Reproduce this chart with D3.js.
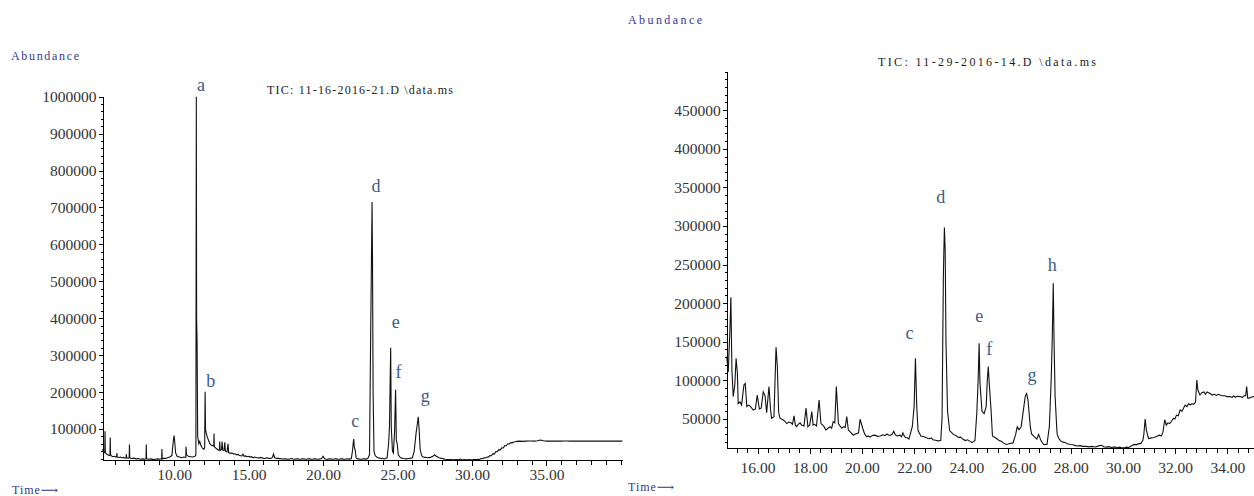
<!DOCTYPE html>
<html>
<head>
<meta charset="utf-8">
<script src="https://cdn.jsdelivr.net/npm/d3@7/dist/d3.min.js"></script>
<style>
  html, body { margin: 0; padding: 0; background: #fff; }
  svg { display: block; }
  .tick text { font-family: "Liberation Serif", "Times New Roman", serif; font-size: 15.5px; fill: #333; }
  .axis path, .axis line { stroke: #000; stroke-width: 1; shape-rendering: crispEdges; }
  .trace { fill: none; stroke: #111; stroke-width: 1.1; stroke-linejoin: miter; }
  .peak { font-family: "Liberation Serif", "Times New Roman", serif; font-size: 18px; fill: #3d5a88; }
  .axlab { font-family: "Liberation Serif", "DejaVu Serif", serif; font-size: 12px; fill: #36368f; }
  .title { font-family: "Liberation Serif", serif; font-size: 12px; fill: #222; }
</style>
</head>
<body>
<svg id="chart" width="1254" height="496"></svg>
<script>
// ---- Run 1: 11-16-2016-21.D  ([retention time (min), abundance]) ----
const leftTrace = [
  [5.19,45000],[5.25,40000],[5.30,36000],[5.34,38000],[5.36,94000],[5.38,36000],[5.45,33000],[5.55,30000],
  [5.65,28000],[5.69,29000],[5.71,77000],[5.73,30000],[5.80,27000],[5.90,25000],[6.00,26000],[6.10,24000],
  [6.14,25000],[6.16,35000],[6.18,24000],[6.30,23000],[6.40,24000],[6.50,22000],[6.60,23000],[6.70,21000],
  [6.77,22000],[6.79,32000],[6.82,22000],[6.90,21000],[6.98,22000],[7.00,58000],[7.02,22000],[7.15,20000],
  [7.30,21000],[7.45,19000],[7.60,20000],[7.75,18000],[7.90,19000],[8.05,18000],[8.11,19000],[8.13,58000],
  [8.15,19000],[8.30,18000],[8.45,19000],[8.60,17000],[8.75,18000],[8.90,19000],[9.05,18000],[9.16,19000],
  [9.18,46000],[9.20,19000],[9.35,21000],[9.45,20000],[9.55,22000],[9.70,24000],[9.85,28000],[9.95,70000],
  [10.00,82000],[10.05,60000],[10.10,35000],[10.20,26000],[10.35,24000],[10.50,22000],[10.65,24000],[10.78,23000],
  [10.80,52000],[10.83,30000],[10.95,26000],[11.10,25000],[11.25,24000],[11.40,26000],[11.46,30000],[11.49,1000000],
  [11.51,400000],[11.54,340000],[11.58,80000],[11.66,60000],[11.72,66000],[11.80,55000],[11.90,48000],[12.00,45000],
  [12.05,50000],[12.08,201000],[12.11,97000],[12.20,82000],[12.30,70000],[12.40,60000],[12.50,56000],[12.66,54000],
  [12.68,88000],[12.70,52000],[12.80,48000],[12.90,45000],[13.00,42000],[13.04,43000],[13.06,66000],[13.09,42000],
  [13.18,44000],[13.22,66000],[13.26,43000],[13.35,42000],[13.40,64000],[13.44,40000],[13.55,38000],[13.62,60000],
  [13.66,36000],[13.80,34000],[13.90,35000],[14.00,32000],[14.10,33000],[14.20,30000],[14.30,31000],[14.40,28000],
  [14.55,27000],[14.62,32000],[14.70,26000],[14.80,27000],[14.90,25000],[15.00,26000],[15.10,24000],[15.20,25000],
  [15.30,22000],[15.40,24000],[15.50,23000],[15.60,22000],[15.70,21000],[15.80,23000],[15.90,22000],[16.00,20500],
  [16.10,20000],[16.20,22000],[16.30,21000],[16.40,20000],[16.50,20000],[16.60,23000],[16.67,32000],[16.75,22000],
  [16.90,20000],[17.00,21000],[17.10,19000],[17.20,20000],[17.30,18000],[17.40,19500],[17.50,19000],[17.60,18000],
  [17.70,18000],[17.80,19500],[17.90,20000],[18.00,18500],[18.10,18000],[18.20,19500],[18.30,19000],[18.40,18000],
  [18.50,18000],[18.60,19500],[18.70,19000],[18.80,18000],[18.90,18000],[19.00,19500],[19.10,19000],[19.20,18000],
  [19.30,18000],[19.40,19500],[19.50,19000],[19.60,18000],[19.70,18000],[19.80,19000],[19.90,20000],[20.00,26000],
  [20.10,19000],[20.20,18000],[20.30,18000],[20.40,19500],[20.50,19000],[20.60,18000],[20.70,18000],[20.80,19500],
  [20.90,19000],[21.00,18000],[21.10,18000],[21.20,19500],[21.30,19000],[21.40,18000],[21.50,18000],[21.60,19500],
  [21.70,19000],[21.80,18500],[21.90,20000],[21.98,42000],[22.02,60000],[22.06,73000],[22.10,50000],[22.16,43000],
  [22.22,22000],[22.30,19000],[22.40,19000],[22.50,18000],[22.60,18000],[22.70,19500],[22.80,19000],[22.90,18500],
  [23.00,20000],[23.12,30000],[23.20,368000],[23.25,557000],[23.29,715000],[23.32,557000],[23.36,200000],[23.42,40000],
  [23.50,28000],[23.60,24000],[23.70,22000],[23.80,21000],[23.90,20000],[24.00,20500],[24.10,19000],[24.20,20000],
  [24.30,22000],[24.40,60000],[24.46,106000],[24.54,320000],[24.58,106000],[24.66,40000],[24.72,35000],[24.80,90000],
  [24.87,206000],[24.92,70000],[24.98,60000],[25.05,30000],[25.20,22000],[25.30,21000],[25.40,20000],[25.50,19500],
  [25.60,19000],[25.70,20000],[25.80,20000],[25.90,21000],[26.00,22000],[26.12,40000],[26.25,90000],[26.32,110000],
  [26.39,133000],[26.45,100000],[26.52,45000],[26.62,28000],[26.70,25000],[26.80,23000],[26.90,23500],[27.00,22000],
  [27.10,22500],[27.20,23000],[27.30,25000],[27.40,27000],[27.50,30000],[27.60,26000],[27.70,24000],[27.80,22000],
  [27.90,21000],[28.00,20000],[28.10,19000],[28.20,18000],[28.30,17500],[28.40,17000],[28.50,17500],[28.60,17000],
  [28.70,16500],[28.80,16500],[28.90,17500],[29.00,17000],[29.10,16500],[29.20,18500],[29.30,17000],[29.40,16500],
  [29.50,17000],[29.60,16500],[29.70,16500],[29.80,17000],[29.90,16500],[30.00,16500],[30.10,17500],[30.20,17000],
  [30.30,17500],[30.40,18000],[30.50,17500],[30.60,20000],[30.70,19500],[30.80,22000],[30.90,21500],[31.00,24000],
  [31.10,23500],[31.20,28000],[31.30,27500],[31.40,33000],[31.50,32000],[31.60,39000],[31.70,38500],[31.80,44000],
  [31.90,43500],[32.00,49000],[32.10,48500],[32.20,55000],[32.30,54500],[32.40,60000],[32.50,59500],[32.60,63000],
  [32.70,62500],[32.80,65000],[32.90,65500],[33.00,66500],[33.20,67000],[33.40,66500],[33.60,67000],[33.80,67500],
  [34.00,67500],[34.20,67000],[34.40,68000],[34.60,70000],[34.80,68000],[35.00,67000],[35.20,67500],[35.40,67000],
  [35.60,67500],[35.80,67000],[36.00,67000],[36.20,67500],[36.40,67500],[36.60,67000],[36.80,67000],[37.00,67500],
  [37.20,67000],[37.40,67000],[37.60,67500],[37.80,67000],[38.00,67000],[38.20,67500],[38.40,67000],[38.60,67000],
  [38.80,67000],[39.00,67500],[39.20,67000],[39.40,67000],[39.60,67000],[39.80,67000],[40.10,67000]
];
const leftPeakLetters = ["a","b","c","d","e","f","g"];
const leftPeakTimes = [11.49,12.08,22.06,23.29,24.54,24.87,26.39];
const leftYTicks = [100000,200000,300000,400000,500000,600000,700000,800000,900000,1000000];
const leftXTicks = [10,15,20,25,30,35];
const leftTitle = "TIC: 11-16-2016-21.D \\data.ms";

// ---- Run 2: 11-29-2016-14.D ----
const rightTrace = [
  [14.82,130700],[14.88,111000],[14.95,172000],[14.98,207600],[15.02,113000],[15.07,79000],[15.13,94000],[15.18,128600],
  [15.23,109000],[15.26,70000],[15.33,72000],[15.39,68000],[15.48,94000],[15.53,96000],[15.59,66000],[15.65,68000],
  [15.71,67000],[15.78,64000],[15.84,61600],[15.92,63000],[15.99,81000],[16.07,63000],[16.14,64000],[16.22,85000],
  [16.29,80000],[16.35,58000],[16.44,92000],[16.50,62000],[16.54,51000],[16.63,53000],[16.71,143000],[16.76,118000],
  [16.81,59000],[16.86,51000],[16.92,50000],[16.99,48700],[17.05,47000],[17.12,44000],[17.20,46000],[17.28,45000],
  [17.34,43000],[17.40,54000],[17.45,42000],[17.50,40000],[17.56,43000],[17.63,45000],[17.69,42000],[17.78,41000],
  [17.86,64000],[17.93,40000],[18.00,42000],[18.08,59500],[18.13,42000],[18.18,43000],[18.26,41000],[18.36,74600],
  [18.43,44000],[18.50,42000],[18.55,40000],[18.62,35700],[18.70,38000],[18.78,40000],[18.84,38000],[18.90,46500],
  [18.96,45000],[19.02,92000],[19.10,44000],[19.16,41000],[19.23,38000],[19.30,40000],[19.36,39000],[19.42,53000],
  [19.48,35700],[19.56,33000],[19.67,29000],[19.74,30500],[19.80,31000],[19.87,32000],[19.93,49600],[20.03,38000],
  [20.10,31000],[20.18,27000],[20.25,28000],[20.31,26500],[20.40,28500],[20.50,29000],[20.60,27500],[20.70,28000],
  [20.80,29500],[20.88,28500],[20.96,30600],[21.03,29000],[21.10,29000],[21.16,30500],[21.22,34000],[21.28,29500],
  [21.35,28000],[21.45,29000],[21.52,27000],[21.57,32000],[21.62,28000],[21.67,26000],[21.74,25500],[21.80,24000],
  [21.93,40000],[22.00,66000],[22.05,128600],[22.10,66000],[22.15,35000],[22.26,28000],[22.38,27000],[22.45,26000],
  [22.52,25000],[22.60,24500],[22.66,25500],[22.72,23000],[22.82,22500],[22.92,21600],[23.02,22000],[23.07,51000],
  [23.12,234000],[23.14,269000],[23.16,298000],[23.19,269000],[23.22,150000],[23.28,60000],[23.31,51000],[23.36,35000],
  [23.42,33000],[23.50,30000],[23.60,28500],[23.70,26000],[23.78,26500],[23.86,24000],[23.96,22000],[24.05,23000],
  [24.14,21000],[24.22,19400],[24.28,21000],[24.33,22000],[24.40,57000],[24.45,98000],[24.49,148000],[24.52,98000],
  [24.60,60000],[24.68,57000],[24.76,66000],[24.80,98000],[24.84,118000],[24.88,95000],[24.95,60000],[25.00,28000],
  [25.10,26000],[25.18,24000],[25.26,22000],[25.34,21000],[25.42,19000],[25.52,17000],[25.60,17500],[25.70,18500],
  [25.79,19000],[25.89,30000],[25.95,40000],[26.02,36000],[26.10,40000],[26.20,65000],[26.26,80000],[26.31,83000],
  [26.36,75000],[26.45,40000],[26.50,30600],[26.60,27000],[26.70,24000],[26.77,30000],[26.86,22000],[26.96,17000],
  [27.09,17000],[27.18,40000],[27.25,100000],[27.29,152000],[27.33,225700],[27.36,152000],[27.40,80000],[27.46,40000],
  [27.48,30000],[27.54,25000],[27.61,21600],[27.70,20000],[27.78,19500],[27.87,18000],[27.98,17000],[28.08,16500],
  [28.18,15500],[28.26,15000],[28.36,15500],[28.46,14500],[28.59,14500],[28.70,13800],[28.80,14500],[28.92,13700],
  [29.02,14500],[29.10,15500],[29.18,16000],[29.26,14000],[29.36,13500],[29.46,14200],[29.57,13000],[29.68,13800],
  [29.78,12800],[29.88,13500],[29.96,12500],[30.06,12800],[30.14,13500],[30.22,13000],[30.32,15000],[30.42,17000],
  [30.52,16500],[30.60,18000],[30.68,18000],[30.76,22000],[30.80,30000],[30.85,50000],[30.90,35000],[30.98,24700],
  [31.08,25500],[31.20,26000],[31.30,27500],[31.40,29000],[31.47,28000],[31.53,32600],[31.60,49000],[31.66,42000],
  [31.72,45000],[31.79,44000],[31.86,47000],[31.93,51000],[31.99,50000],[32.05,55000],[32.12,54000],[32.19,61700],
  [32.26,60000],[32.32,64000],[32.38,68000],[32.45,66000],[32.52,70000],[32.58,68000],[32.64,70000],[32.71,69000],
  [32.78,72000],[32.83,100500],[32.87,87500],[32.95,81000],[33.02,84000],[33.10,85000],[33.16,82000],[33.22,85000],
  [33.34,83000],[33.42,81000],[33.50,82000],[33.58,80500],[33.66,82000],[33.72,81000],[33.80,80000],[33.90,80000],
  [33.98,79000],[34.10,79000],[34.18,78000],[34.24,80000],[34.30,78000],[34.38,79500],[34.49,79000],[34.58,78000],
  [34.64,80000],[34.70,80000],[34.74,92000],[34.78,77000],[34.84,77000],[34.92,78500],[35.02,79000]
];
const rightPeakLetters = ["c","d","e","f","g","h"];
const rightPeakTimes = [22.05,23.16,24.49,24.84,26.31,27.33];
const rightYTicks = [50000,100000,150000,200000,250000,300000,350000,400000,450000];
const rightXTicks = [16,18,20,22,24,26,28,30,32,34];
const rightTitle = "TIC: 11-29-2016-14.D \\data.ms";

const yAxisTitle = "Abundance";
const xAxisTitle = "Time\u27F6";

// ---- layout ----
const panels = [
  {
    trace: leftTrace, letters: leftPeakLetters, peakTimes: leftPeakTimes,
    yTicks: leftYTicks, xTicks: leftXTicks, title: leftTitle,
    xDomain: [5.19, 40.1], xRange: [102.5, 622.4],
    yDomain: [16000, 1000000], yRange: [460, 96.7],
    xMinorStep: 1, xMinorStart: 6, yMinorStep: 20000, xPad: 3,
    titlePos: [267, 94, 186], yTitlePos: [11, 60, 68], xTitlePos: [12, 494, 46],
    labelOffsets: { a: [4.7, -6], b: [5.6, -5], c: [1.6, -12.3], d: [4, -10], e: [5, -19.5], f: [3, -11.6], g: [7, -15] }
  },
  {
    trace: rightTrace, letters: rightPeakLetters, peakTimes: rightPeakTimes,
    yTicks: rightYTicks, xTicks: rightXTicks, title: rightTitle,
    xDomain: [14.82, 35.02], xRange: [726.7, 1254],
    yDomain: [12000, 500000], yRange: [448.3, 71.6],
    xMinorStep: 0.4, xMinorStart: 15.2, yMinorStep: 10000, xPad: 8,
    titlePos: [878, 66, 218], yTitlePos: [628, 24, 74], xTitlePos: [628, 491, 46],
    labelOffsets: { c: [-6, -19], d: [-3.7, -25], e: [0, -21.6], f: [1, -11.5], g: [5.4, -12], h: [-1, -12.6] }
  }
];

const svg = d3.select("#chart");

panels.forEach(p => {
  const x = d3.scaleLinear().domain(p.xDomain).range(p.xRange);
  const y = d3.scaleLinear().domain(p.yDomain).range(p.yRange);
  const g = svg.append("g");

  // minor ticks on both axes
  const xMinor = d3.range(p.xMinorStart, p.xDomain[1] + 1e-6, p.xMinorStep)
    .filter(v => !p.xTicks.some(t => Math.abs(t - v) < 1e-6));
  const yMinor = d3.range(p.yDomain[0] - (p.yDomain[0] % p.yMinorStep) + p.yMinorStep, p.yDomain[1] + 1, p.yMinorStep)
    .filter(v => !p.yTicks.includes(v));

  const xAxisY = p.yRange[0];
  const yAxisX = p.xRange[0];

  g.append("g").attr("class", "axis").attr("transform", `translate(0,${xAxisY})`)
    .call(d3.axisBottom(x).tickValues(xMinor).tickSize(5).tickSizeOuter(0).tickFormat(""));
  g.append("g").attr("class", "axis").attr("transform", `translate(0,${xAxisY})`)
    .call(d3.axisBottom(x).tickValues(p.xTicks).tickSize(6).tickSizeOuter(0).tickPadding(p.xPad)
      .tickFormat(d3.format(".2f")));

  g.append("g").attr("class", "axis").attr("transform", `translate(${yAxisX},0)`)
    .call(d3.axisLeft(y).tickValues(yMinor).tickSize(2).tickSizeOuter(0).tickFormat(""));
  g.append("g").attr("class", "axis").attr("transform", `translate(${yAxisX},0)`)
    .call(d3.axisLeft(y).tickValues(p.yTicks).tickSize(4).tickSizeOuter(0).tickPadding(2)
      .tickFormat(d3.format("d")));

  // chromatogram trace
  g.append("path").attr("class", "trace")
    .attr("d", d3.line().x(d => x(d[0])).y(d => y(d[1]))(p.trace));

  // peak letters, placed just above each peak's apex
  p.letters.forEach((L, i) => {
    const t = p.peakTimes[i];
    const apex = p.trace.find(d => d[0] === t);
    const off = p.labelOffsets[L];
    g.append("text").attr("class", "peak")
      .attr("x", x(t) + off[0]).attr("y", y(apex[1]) + off[1])
      .attr("text-anchor", "middle").text(L);
  });

  // titles
  g.append("text").attr("class", "title")
    .attr("x", p.titlePos[0]).attr("y", p.titlePos[1])
    .attr("textLength", p.titlePos[2]).attr("lengthAdjust", "spacing")
    .text(p.title);
  g.append("text").attr("class", "axlab")
    .attr("x", p.yTitlePos[0]).attr("y", p.yTitlePos[1])
    .attr("textLength", p.yTitlePos[2]).attr("lengthAdjust", "spacing")
    .text(yAxisTitle);
  g.append("text").attr("class", "axlab")
    .attr("x", p.xTitlePos[0]).attr("y", p.xTitlePos[1])
    .attr("textLength", p.xTitlePos[2]).attr("lengthAdjust", "spacing")
    .text(xAxisTitle);
});
</script>
</body>
</html>
